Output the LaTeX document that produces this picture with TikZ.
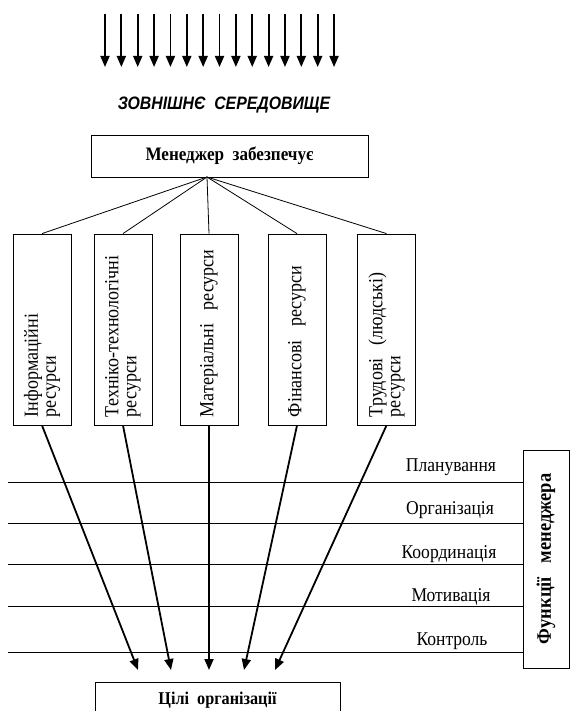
\documentclass[tikz,border=0pt]{standalone}
\usepackage{fontspec}
\setmainfont{Liberation Serif}[FakeStretch=0.9]
\setsansfont{Liberation Sans}[FakeStretch=0.88]
\usetikzlibrary{arrows.meta}

\tikzset{
  fanline/.style={line width=0.8pt},
  thickarrow/.style={line width=1.8pt,-{Triangle[length=11pt,width=9pt]}},
  levelline/.style={line width=0.8pt}
}

\begin{document}
\begin{tikzpicture}[x=1pt,y=-1pt]

  \useasboundingbox (0,0) rectangle (571,711);
  \clip (0,0) rectangle (571,711);

  % external influence
  \foreach \i in {0,...,14}
    {
      \coordinate (in\i) at (105+16.36*\i,14);
      \coordinate (out\i) at (105+16.36*\i,67);
      \draw[thickarrow] (in\i) -- (out\i);
    }

  \node[font=\sffamily\bfseries\itshape\fontsize{18}{20}\selectfont] (env) at (224,105)
    {ЗОВНІШНЄ\ \ СЕРЕДОВИЩЕ};

  \node[draw,line width=0.8pt,minimum width=277pt,minimum height=42pt,
        font=\bfseries\fontsize{19}{21}\selectfont] (mgr) at (229.5,156) {Менеджер\ \ забезпечує};
  \coordinate (hub) at (207,177);

  \begin{scope}[every node/.style={draw,line width=0.8pt,rotate=90,minimum width=191pt,
      minimum height=58pt,text width=175pt,align=left,inner xsep=8pt,inner ysep=0pt,
      font=\fontsize{20}{18}\selectfont}]
    \node (res1) at (42,329.5)  {Інформаційні\\ресурси};
    \node (res2) at (123,329.5) {Техніко-технологічні\\ресурси};
    \node (res3) at (209,329.5) {Матеріальні\ \ ресурси};
    \node (res4) at (297,329.5) {Фінансові\ \ ресурси};
    \node (res5) at (386.5,329.5) {Трудові\ \ (людські)\\ресурси};
  \end{scope}

  \foreach \r in {1,...,5}
    \draw[fanline] (hub) -- (res\r.east);

  % functions
  \begin{scope}[every node/.style={font=\fontsize{19.5}{20}\selectfont}]
    \node (plan)  at (451,467) {Планування};
    \node (org)   at (450,510) {Організація};
    \node (coord) at (449,554) {Координація};
    \node (motiv) at (451,597) {Мотивація};
    \node (ctrl)  at (452,641) {Контроль};
  \end{scope}

  \node[draw,line width=0.8pt,rotate=90,minimum width=218pt,minimum height=46pt,
        font=\bfseries\fontsize{20.5}{22}\selectfont] (func) at (546,559) {Функції\ \ \ менеджера};

  \coordinate (l1a) at (8,482); \coordinate (l1b) at (func.north |- 0,482);
  \coordinate (l2a) at (8,523); \coordinate (l2b) at (func.north |- 0,523);
  \coordinate (l3a) at (8,564); \coordinate (l3b) at (func.north |- 0,564);
  \coordinate (l4a) at (8,606); \coordinate (l4b) at (func.north |- 0,606);
  \coordinate (l5a) at (8,652); \coordinate (l5b) at (func.north |- 0,652);
  \foreach \l in {1,...,5}
    \draw[levelline] (l\l a) -- (l\l b);

  % goals
  \node[draw,line width=0.8pt,anchor=north,minimum width=245pt,inner ysep=10pt,
        text depth=30pt,font=\bfseries\fontsize{18}{20}\selectfont] (goal) at (217.5,682)
    {Цілі\ \ організації};

  \coordinate (tip1) at (138,670);
  \coordinate (tip2) at (171,670);
  \coordinate (tip3) at (209,670);
  \coordinate (tip4) at (244,670);
  \coordinate (tip5) at (275,670);
  \foreach \r in {1,...,5}
    \draw[thickarrow] (res\r.west) -- (tip\r);

\end{tikzpicture}
\end{document}
